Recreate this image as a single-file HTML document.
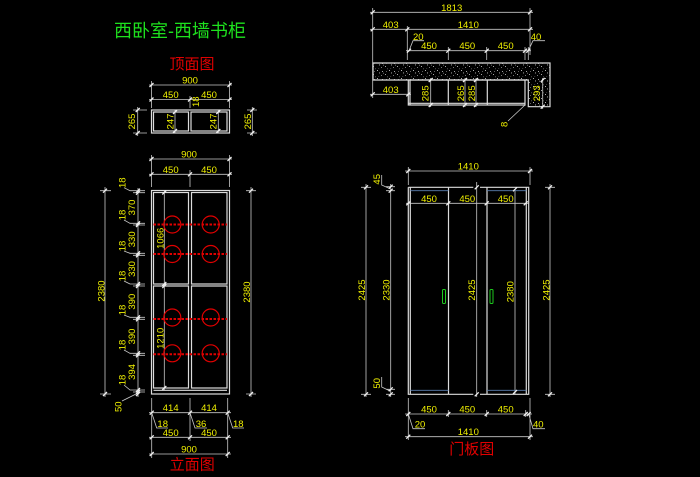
<!DOCTYPE html>
<html>
<head>
<meta charset="utf-8">
<style>
html,body{margin:0;padding:0;background:#000;}
svg{display:block;}
.dl{stroke:#c8c8c8;stroke-width:0.8;fill:none;}
.tk{stroke:#f0f0f0;stroke-width:1.3;fill:none;}
.ol{stroke:#dcdcdc;stroke-width:1.2;fill:none;}
.n{fill:#f0f000;font-family:"Liberation Sans",sans-serif;font-size:9.5px;text-anchor:middle;}
.cjk{font-family:"Liberation Sans","Noto Sans CJK SC",sans-serif;text-anchor:middle;}
.red{stroke:#e00000;fill:none;}
</style>
</head>
<body>
<svg width="700" height="477" viewBox="0 0 700 477" xmlns="http://www.w3.org/2000/svg">
<defs>
<pattern id="sp" width="12" height="8" patternUnits="userSpaceOnUse">
<rect x="1" y="2" width="0.9" height="0.9" fill="#ccc"/>
<rect x="5" y="6" width="0.9" height="0.9" fill="#ddd"/>
<rect x="9" y="3" width="0.8" height="0.8" fill="#bbb"/>
<rect x="10" y="7" width="0.9" height="0.9" fill="#ccc"/>
<rect x="3" y="4.5" width="0.7" height="0.7" fill="#aaa"/>
<rect x="7" y="0.5" width="0.9" height="0.9" fill="#ccc"/>
<rect x="2" y="7" width="0.7" height="0.7" fill="#bbb"/>
<rect x="11" y="0.8" width="0.7" height="0.7" fill="#ddd"/>
<rect x="6.5" y="4" width="0.6" height="0.6" fill="#999"/>
</pattern>
</defs>
<rect width="700" height="477" fill="#000"/>

<!-- Titles -->
<text class="cjk" x="180" y="37" font-size="18" fill="#1ee01e">西卧室-西墙书柜</text>
<text class="cjk" x="192" y="69" font-size="15" fill="#e00000">顶面图</text>
<text class="cjk" x="192.3" y="469.5" font-size="15" fill="#e00000">立面图</text>
<text class="cjk" x="471.7" y="454" font-size="15" fill="#e00000">门板图</text>

<!-- ===== Top view (left) ===== -->
<path class="dl" d="M149,85H232 M149,99.5H232 M151.5,81V108 M229.5,81V108 M190,96V108
M137.7,107V136 M133,110H147 M133,133H147 M252.3,107V136 M247,110H257 M247,133H257
M175,110V133 M218.3,110V133"/>
<rect class="ol" x="151.5" y="110" width="78" height="23"/>
<rect class="ol" x="153.5" y="112" width="35" height="19"/>
<rect class="ol" x="191" y="112" width="36" height="19"/>
<path class="tk" d="M149.5,87l4,-4 M227.5,87l4,-4 M149.5,101.5l4,-4 M188,101.5l4,-4 M227.5,101.5l4,-4 M135.7,112l4,-4 M135.7,135l4,-4 M250.3,112l4,-4 M250.3,135l4,-4 M173,114l4,-4 M173,133l4,-4 M216.3,114l4,-4 M216.3,133l4,-4"/>
<text class="n" x="190" y="83.5">900</text>
<text class="n" x="170.7" y="98">450</text>
<text class="n" x="209" y="98">450</text>
<text class="n" transform="translate(195.7,101.7) rotate(-90)" y="3.3">18</text>
<text class="n" transform="translate(131.7,121.5) rotate(-90)" y="3.3">265</text>
<text class="n" transform="translate(247.7,121.5) rotate(-90)" y="3.3">265</text>
<text class="n" transform="translate(170,121.5) rotate(-90)" y="3.3">247</text>
<text class="n" transform="translate(213.3,121.5) rotate(-90)" y="3.3">247</text>

<!-- ===== Elevation (left) ===== -->
<path class="dl" d="M149,159H232 M149,174.3H232 M151.5,155V187 M229.5,155V187 M190,170V187
M105,187V397 M100,190.7H111 M100,394H111
M251,187V397 M246,190.7H256 M246,394H256
M138,188V397
M133,190.7H145 M133,192.7H145 M133,223.3H145 M133,225H145 M133,253.3H145 M133,255.3H145 M133,284H145 M133,286H145 M133,317.3H145 M133,319.3H145 M133,353.3H145 M133,355.3H145 M133,390H145 M133,392H145
M164.3,190V390
M124,187.7L130,190.7H138 M124,220L130,223.3H138 M124,251L130,253.3H138 M124,281L130,284H138 M124,315L130,317.3H138 M124,350L130,353.3H138 M124,385L130,390H138 M122,401L136,394
M149,412.7H231 M149,437.3H231 M149,454H231 M151.7,398V458 M227.7,398V458 M190,398V441
M151.7,412.7L156.7,428H168 M190,412.7L195,428H207 M227.7,412.7L232.7,428H244"/>
<rect class="ol" x="151.5" y="190.5" width="78" height="203.5"/>
<rect class="ol" x="153.5" y="192.5" width="35" height="91.5"/>
<rect class="ol" x="153.5" y="286" width="35" height="102"/>
<rect class="ol" x="191.5" y="192.5" width="35.5" height="91.5"/>
<rect class="ol" x="191.5" y="286" width="35.5" height="102"/>
<path class="ol" d="M153.5,390.3H227"/>
<!-- red shelves -->
<path class="red" stroke-width="2" stroke-dasharray="2.5,1.5" d="M153.5,224.5H227 M153.5,254H227 M153.5,319H227 M153.5,354.3H227"/>
<g class="red" stroke-width="1.2">
<circle cx="172.3" cy="224.5" r="8.5"/>
<circle cx="210.7" cy="224.5" r="8.5"/>
<circle cx="172.3" cy="254" r="8.5"/>
<circle cx="210.7" cy="254" r="8.5"/>
<circle cx="172.3" cy="317.5" r="8.5"/>
<circle cx="210.7" cy="317.5" r="8.5"/>
<circle cx="172.3" cy="353.3" r="8.5"/>
<circle cx="210.7" cy="353.3" r="8.5"/>
</g>
<path class="tk" d="M149.5,161l4,-4 M227.5,161l4,-4 M149.5,176.3l4,-4 M188,176.3l4,-4 M227.5,176.3l4,-4
M103,192.7l4,-4 M103,396l4,-4 M249,192.7l4,-4 M249,396l4,-4
M136,192.7l4,-4 M136,194.7l4,-4 M136,225.3l4,-4 M136,227l4,-4 M136,255.3l4,-4 M136,257.3l4,-4 M136,286l4,-4 M136,288l4,-4 M136,319.3l4,-4 M136,321.3l4,-4 M136,355.3l4,-4 M136,357.3l4,-4 M136,392l4,-4 M136,394l4,-4 M136,396l4,-4
M162.3,194.5l4,-4 M162.3,286l4,-4 M162.3,288l4,-4 M162.3,390l4,-4
M149.7,414.7l4,-4 M188,414.7l4,-4 M225.7,414.7l4,-4 M149.7,439.3l4,-4 M188,439.3l4,-4 M225.7,439.3l4,-4 M149.7,456l4,-4 M225.7,456l4,-4"/>
<text class="n" x="189" y="157.5">900</text>
<text class="n" x="170.7" y="172.8">450</text>
<text class="n" x="209" y="172.8">450</text>
<text class="n" transform="translate(101,291) rotate(-90)" y="3.3">2380</text>
<text class="n" transform="translate(246.7,292) rotate(-90)" y="3.3">2380</text>
<text class="n" transform="translate(122,182.7) rotate(-90)" y="3.3">18</text>
<text class="n" transform="translate(122,215) rotate(-90)" y="3.3">18</text>
<text class="n" transform="translate(122,246) rotate(-90)" y="3.3">18</text>
<text class="n" transform="translate(122,276) rotate(-90)" y="3.3">18</text>
<text class="n" transform="translate(122,310) rotate(-90)" y="3.3">18</text>
<text class="n" transform="translate(122,345) rotate(-90)" y="3.3">18</text>
<text class="n" transform="translate(122,380) rotate(-90)" y="3.3">18</text>
<text class="n" transform="translate(131.7,207.5) rotate(-90)" y="3.3">370</text>
<text class="n" transform="translate(131.7,239.3) rotate(-90)" y="3.3">330</text>
<text class="n" transform="translate(131.7,269) rotate(-90)" y="3.3">330</text>
<text class="n" transform="translate(131.7,301.7) rotate(-90)" y="3.3">390</text>
<text class="n" transform="translate(131.7,336.5) rotate(-90)" y="3.3">390</text>
<text class="n" transform="translate(131.7,372) rotate(-90)" y="3.3">394</text>
<text class="n" transform="translate(160,238.3) rotate(-90)" y="3.3">1066</text>
<text class="n" transform="translate(160,338.3) rotate(-90)" y="3.3">1210</text>
<text class="n" transform="translate(118,406.7) rotate(-90)" y="3.3">50</text>
<text class="n" x="170.7" y="411.2">414</text>
<text class="n" x="209" y="411.2">414</text>
<text class="n" x="162.7" y="427">18</text>
<text class="n" x="201" y="427">36</text>
<text class="n" x="238.3" y="427">18</text>
<text class="n" x="170.7" y="435.8">450</text>
<text class="n" x="209" y="435.8">450</text>
<text class="n" x="189" y="452.5">900</text>

<!-- ===== Top view (right) ===== -->
<path class="dl" d="M370,12.3H533 M370,29.3H533 M372.7,8V98 M530,8V55 M407.3,26V60
M406,50.7H531 M448.3,47V60 M486.7,47V60 M525,47V60 M528.3,47V60
M409,50.7L413,40.7H424 M528.3,50.7L533,40.7H545
M370,94.3H411
M430.7,78V107 M465,78V107 M476,78V107 M542.7,78V109
M508,121L525,105"/>
<path class="ol" style="fill:url(#sp)" d="M373,63H550V106.7H528.3V80H373Z"/>
<rect class="ol" x="408.3" y="80" width="116.7" height="25"/>
<path class="ol" d="M448.3,80V105 M487.3,80V105 M410,80V105 M408.3,103.3H525"/>
<path class="tk" d="M370.7,14.3l4,-4 M528,14.3l4,-4 M370.7,31.3l4,-4 M405.3,31.3l4,-4 M528,31.3l4,-4 M407,52.7l4,-4 M446.3,52.7l4,-4 M484.7,52.7l4,-4 M523,52.7l4,-4 M526.3,52.7l4,-4 M370.7,96.3l4,-4 M406.3,96.3l4,-4 M428.7,82l4,-4 M428.7,107l4,-4 M463,82l4,-4 M463,107l4,-4 M474,82l4,-4 M474,107l4,-4 M540.7,82l4,-4 M540.7,108.7l4,-4"/>
<text class="n" x="451.7" y="10.8">1813</text>
<text class="n" x="390.7" y="27.8">403</text>
<text class="n" x="468.3" y="27.8">1410</text>
<text class="n" x="418.3" y="39.8">20</text>
<text class="n" x="536" y="39.8">40</text>
<text class="n" x="429" y="49.2">450</text>
<text class="n" x="467.3" y="49.2">450</text>
<text class="n" x="505.7" y="49.2">450</text>
<text class="n" x="390.7" y="92.8">403</text>
<text class="n" transform="translate(425,93.3) rotate(-90)" y="3.3">285</text>
<text class="n" transform="translate(460.7,93.3) rotate(-90)" y="3.3">265</text>
<text class="n" transform="translate(471.7,93.3) rotate(-90)" y="3.3">285</text>
<text class="n" transform="translate(536.7,93.3) rotate(-90)" y="3.3">293</text>
<text class="n" transform="translate(504,124.3) rotate(-90)" y="3.3">8</text>

<!-- ===== Door elevation (right) ===== -->
<path class="dl" d="M405,171H533 M408.3,167V185 M530,167V185
M406,203.3H529
M366,184V397 M361,187.3H371 M361,394.3H371
M390.7,184V397 M386,186.7H395 M386,190.7H395 M386,389.3H395 M386,394.3H395
M381.7,175V185L390,188.7 M381.7,377V387L390,391
M476.7,182V397 M515,189V394
M550,184V397 M545,187.3H555 M545,394.3H555
M405,414H532 M405,436.7H533 M408.3,398V440 M530,398V440 M448.3,410V417 M486.7,410V417 M525.7,410V417
M408.3,414L413,428.7H425 M528.7,414L533,428.7H545"/>
<path class="ol" d="M408.3,187.3H473.3 M480,187.3H528.7V394.3H480 M473.3,394.3H408.3V187.3
M410.3,187.3V394.3 M526.3,187.3V394.3 M448.5,187.3V394.3 M487,187.3V394.3"/>
<path stroke="#5a7fb0" stroke-width="0.9" fill="none" d="M410.3,190.7H448.5 M487,190.7H526.3 M410.3,390.3H448.5 M487,390.3H526.3"/>
<rect x="442.5" y="289.5" width="3" height="14" rx="1" fill="none" stroke="#1ec81e" stroke-width="1"/>
<rect x="490" y="289.5" width="3" height="14" rx="1" fill="none" stroke="#1ec81e" stroke-width="1"/>
<path class="tk" d="M406.3,173l4,-4 M528,173l4,-4 M406.3,205.3l4,-4 M446.3,205.3l4,-4 M484.7,205.3l4,-4 M523.7,205.3l4,-4 M364,189.3l4,-4 M364,396.3l4,-4 M388.7,188.7l4,-4 M388.7,192.7l4,-4 M388.7,391.3l4,-4 M388.7,396.3l4,-4 M474.7,189.3l4,-4 M474.7,396.3l4,-4 M513,191.3l4,-4 M513,394l4,-4 M548,189.3l4,-4 M548,396.3l4,-4 M406.3,416l4,-4 M446.3,416l4,-4 M484.7,416l4,-4 M523.7,416l4,-4 M526.7,416l4,-4 M406.3,438.7l4,-4 M528,438.7l4,-4"/>
<text class="n" x="468.3" y="169.5">1410</text>
<text class="n" x="429" y="201.8">450</text>
<text class="n" x="467.3" y="201.8">450</text>
<text class="n" x="505.7" y="201.8">450</text>
<text class="n" transform="translate(361.7,290) rotate(-90)" y="3.3">2425</text>
<text class="n" transform="translate(386,290) rotate(-90)" y="3.3">2330</text>
<text class="n" transform="translate(376.7,179.3) rotate(-90)" y="3.3">45</text>
<text class="n" transform="translate(376.7,383.3) rotate(-90)" y="3.3">50</text>
<text class="n" transform="translate(471.7,290) rotate(-90)" y="3.3">2425</text>
<text class="n" transform="translate(510,291.7) rotate(-90)" y="3.3">2380</text>
<text class="n" transform="translate(546,290) rotate(-90)" y="3.3">2425</text>
<text class="n" x="429" y="412.5">450</text>
<text class="n" x="467.3" y="412.5">450</text>
<text class="n" x="505.7" y="412.5">450</text>
<text class="n" x="420" y="427.7">20</text>
<text class="n" x="538.3" y="427.7">40</text>
<text class="n" x="468.3" y="435.2">1410</text>
</svg>
</body>
</html>
